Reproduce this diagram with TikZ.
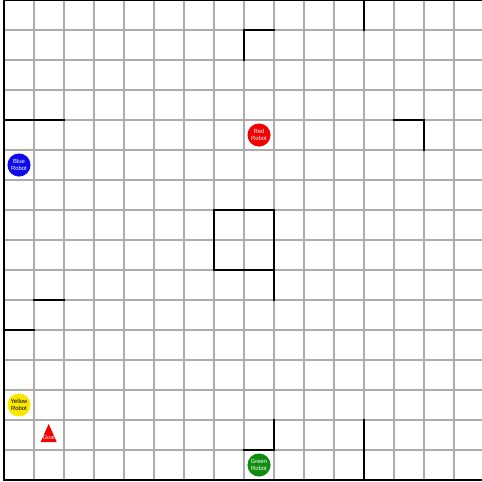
\documentclass[tikz,border=0pt]{standalone}
\usepackage{fontspec}
\setmainfont{Liberation Sans}
\usepackage{xcolor}
\usepackage{tikz}
\usetikzlibrary{positioning}
\definecolor{gridc}{RGB}{172,172,172}
\definecolor{rred}{RGB}{245,0,0}
\definecolor{rblue}{RGB}{15,10,235}
\definecolor{ryellow}{RGB}{250,232,0}
\definecolor{rgreen}{RGB}{15,140,15}
\tikzset{
  cell/.style={gridc,line width=1.1pt},
  wall/.style={black,line width=2pt,line cap=rect},
  robot/.style={circle,minimum size=7.7mm,inner sep=0pt,align=center,text=white,
    font=\fontsize{5.6}{6.6}\selectfont},
  tag/.style={font=\fontsize{5.3}{6}\selectfont,text=white,inner sep=0pt},
}

\begin{document}
\begin{tikzpicture}[x=1cm,y=-1cm]
  \useasboundingbox (-0.1333,0) rectangle (15.9333,16.0333);
  \fill[white] (-0.1333,0) rectangle (15.9333,16.0333);
  % board
  \foreach \i in {0,...,16} {
    \draw[cell] (\i,0) -- (\i,16);
    \draw[cell] (0,\i) -- (16,\i);
  }
  \draw[wall] (0,0) rectangle (16,16);
  % walls
  \draw[wall] (12,0) -- (12,1);
  \draw[wall] (8,2) -- (8,1) -- (9,1);
  \draw[wall] (13,4) -- (14,4) -- (14,5);
  \draw[wall] (0,4) -- (2,4);
  \draw[wall] (7,7) rectangle (9,9);
  \draw[wall] (9,9) -- (9,10);
  \draw[wall] (1,10) -- (2,10);
  \draw[wall] (0,11) -- (1,11);
  \draw[wall] (8,15) -- (9,15) -- (9,14);
  \draw[wall] (12,14) -- (12,16);
  % robots
  \node[robot,fill=rred] (red) at (8.5,4.5) {Red\\Robot};
  \node[robot,fill=rblue] (blue) at (0.5,5.5) {Blue\\Robot};
  \node[robot,fill=ryellow,text=black] (yellow) at (0.5,13.5) {Yellow\\Robot};
  \node[robot,fill=rgreen] (green) at (8.5,15.5) {Green\\Robot};
  % goal
  \fill[rred] (1.49,14.13) -- (1.76,14.74) -- (1.22,14.74) -- cycle;
  \node[tag] (goal) at (1.49,14.59) {Goal};
\end{tikzpicture}
\end{document}
